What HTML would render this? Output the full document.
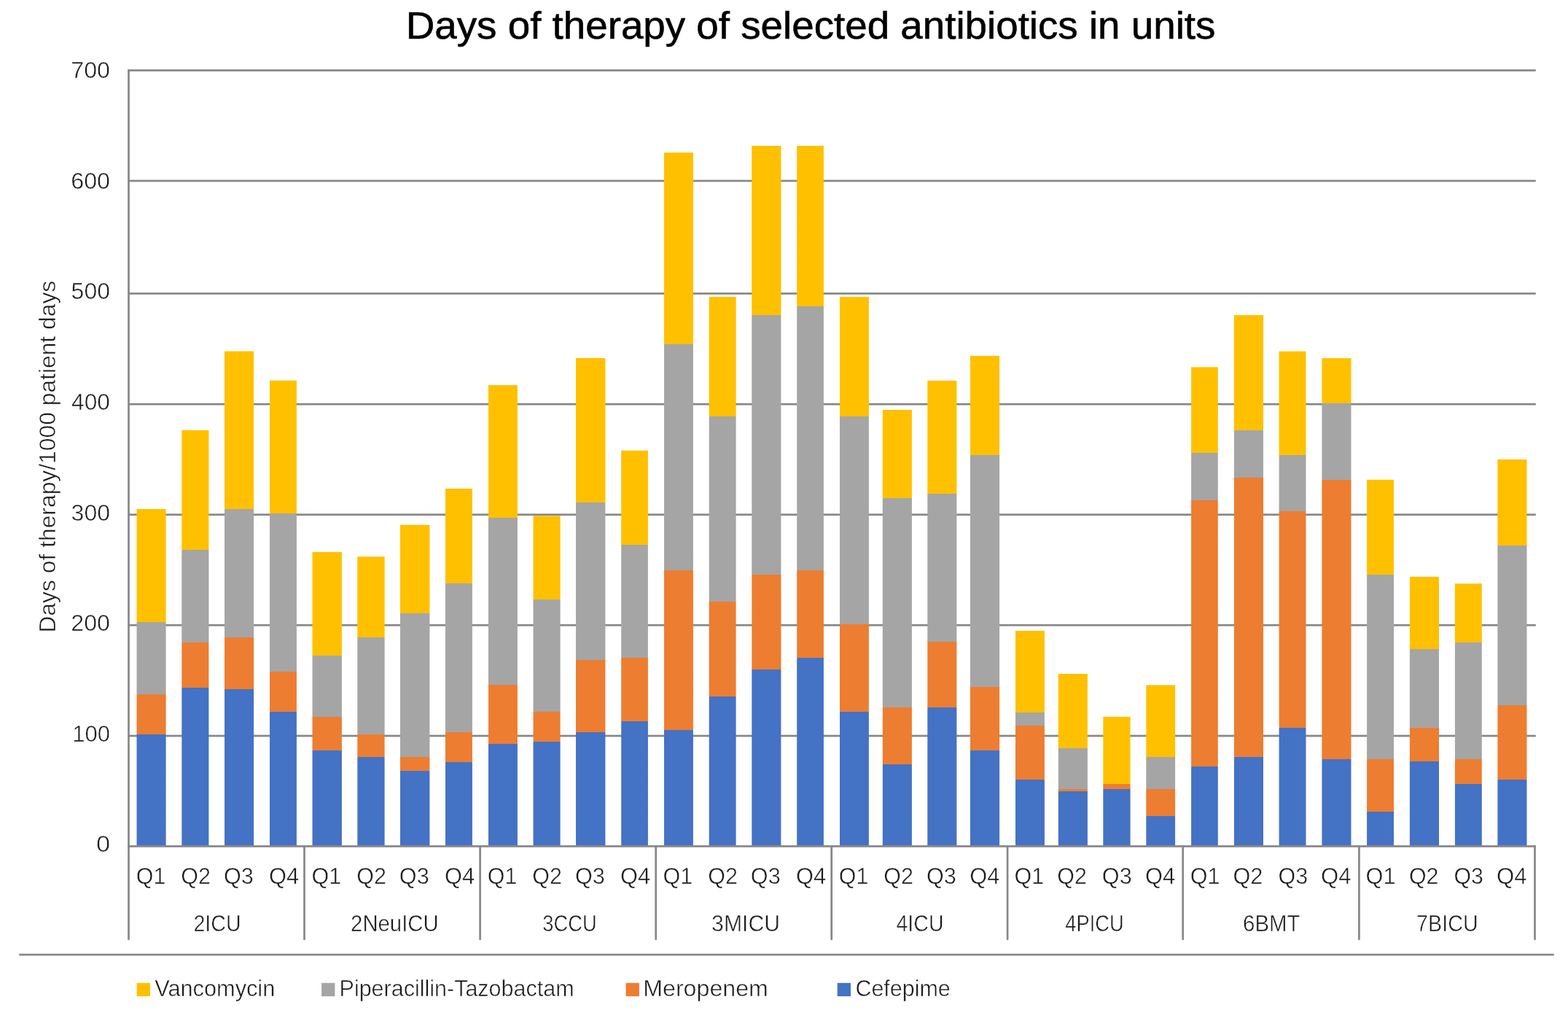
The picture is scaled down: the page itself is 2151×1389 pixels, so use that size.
<!DOCTYPE html>
<html lang="en">
<head>
<meta charset="utf-8">
<title>Days of therapy of selected antibiotics in units</title>
<style>
html,body{margin:0;padding:0;background:#fff;}
body{width:2151px;height:1389px;overflow:hidden;}
svg{display:block;}
text{font-family:"Liberation Sans",Arial,Helvetica,sans-serif;fill:#1a1a1a;stroke:#fff;stroke-width:0.5px;}
.t{font-size:52.6px;fill:#000;stroke:#000;stroke-width:0.6px;}
.k{font-size:31.2px;}
.q{font-size:31.2px;}
.u{font-size:31.2px;}
.l{font-size:31.2px;}
.a{font-size:31.2px;}
.gl{fill:#878787;}
.y{fill:#FFC000;}.g{fill:#A5A5A5;}.o{fill:#ED7D31;}.b{fill:#4472C4;}
</style>
</head>
<body>
<svg width="2151" height="1389" viewBox="0 0 2151 1389" role="img" aria-label="Stacked bar chart: days of therapy of selected antibiotics in units">
<rect x="0" y="0" width="2151" height="1389" fill="#fff"/>
<g class="gl">
<rect x="175.25" y="95.15" width="1931.5" height="2.7"/>
<rect x="175.25" y="246.65" width="1931.5" height="2.7"/>
<rect x="175.25" y="401.15" width="1931.5" height="2.7"/>
<rect x="175.25" y="552.85" width="1931.5" height="2.7"/>
<rect x="175.25" y="704.35" width="1931.5" height="2.7"/>
<rect x="175.25" y="855.85" width="1931.5" height="2.7"/>
<rect x="175.25" y="1007.65" width="1931.5" height="2.7"/>
</g>
<defs>
<linearGradient id="b0" gradientUnits="userSpaceOnUse" x1="0" y1="698" x2="0" y2="1159.5">
<stop offset="0.0000" stop-color="#FFC000"/><stop offset="0.3359" stop-color="#FFC000"/>
<stop offset="0.3359" stop-color="#A5A5A5"/><stop offset="0.5499" stop-color="#A5A5A5"/>
<stop offset="0.5499" stop-color="#ED7D31"/><stop offset="0.6704" stop-color="#ED7D31"/>
<stop offset="0.6704" stop-color="#4472C4"/><stop offset="1.0000" stop-color="#4472C4"/>
</linearGradient>
<linearGradient id="b1" gradientUnits="userSpaceOnUse" x1="0" y1="589.8" x2="0" y2="1159.5">
<stop offset="0.0000" stop-color="#FFC000"/><stop offset="0.2880" stop-color="#FFC000"/>
<stop offset="0.2880" stop-color="#A5A5A5"/><stop offset="0.5103" stop-color="#A5A5A5"/>
<stop offset="0.5103" stop-color="#ED7D31"/><stop offset="0.6191" stop-color="#ED7D31"/>
<stop offset="0.6191" stop-color="#4472C4"/><stop offset="1.0000" stop-color="#4472C4"/>
</linearGradient>
<linearGradient id="b2" gradientUnits="userSpaceOnUse" x1="0" y1="481.6" x2="0" y2="1159.5">
<stop offset="0.0000" stop-color="#FFC000"/><stop offset="0.3192" stop-color="#FFC000"/>
<stop offset="0.3192" stop-color="#A5A5A5"/><stop offset="0.5794" stop-color="#A5A5A5"/>
<stop offset="0.5794" stop-color="#ED7D31"/><stop offset="0.6842" stop-color="#ED7D31"/>
<stop offset="0.6842" stop-color="#4472C4"/><stop offset="1.0000" stop-color="#4472C4"/>
</linearGradient>
<linearGradient id="b3" gradientUnits="userSpaceOnUse" x1="0" y1="521.7" x2="0" y2="1159.5">
<stop offset="0.0000" stop-color="#FFC000"/><stop offset="0.2861" stop-color="#FFC000"/>
<stop offset="0.2861" stop-color="#A5A5A5"/><stop offset="0.6257" stop-color="#A5A5A5"/>
<stop offset="0.6257" stop-color="#ED7D31"/><stop offset="0.7129" stop-color="#ED7D31"/>
<stop offset="0.7129" stop-color="#4472C4"/><stop offset="1.0000" stop-color="#4472C4"/>
</linearGradient>
<linearGradient id="b4" gradientUnits="userSpaceOnUse" x1="0" y1="757" x2="0" y2="1159.5">
<stop offset="0.0000" stop-color="#FFC000"/><stop offset="0.3533" stop-color="#FFC000"/>
<stop offset="0.3533" stop-color="#A5A5A5"/><stop offset="0.5605" stop-color="#A5A5A5"/>
<stop offset="0.5605" stop-color="#ED7D31"/><stop offset="0.6758" stop-color="#ED7D31"/>
<stop offset="0.6758" stop-color="#4472C4"/><stop offset="1.0000" stop-color="#4472C4"/>
</linearGradient>
<linearGradient id="b5" gradientUnits="userSpaceOnUse" x1="0" y1="763.2" x2="0" y2="1159.5">
<stop offset="0.0000" stop-color="#FFC000"/><stop offset="0.2806" stop-color="#FFC000"/>
<stop offset="0.2806" stop-color="#A5A5A5"/><stop offset="0.6162" stop-color="#A5A5A5"/>
<stop offset="0.6162" stop-color="#ED7D31"/><stop offset="0.6944" stop-color="#ED7D31"/>
<stop offset="0.6944" stop-color="#4472C4"/><stop offset="1.0000" stop-color="#4472C4"/>
</linearGradient>
<linearGradient id="b6" gradientUnits="userSpaceOnUse" x1="0" y1="719.7" x2="0" y2="1159.5">
<stop offset="0.0000" stop-color="#FFC000"/><stop offset="0.2751" stop-color="#FFC000"/>
<stop offset="0.2751" stop-color="#A5A5A5"/><stop offset="0.7246" stop-color="#A5A5A5"/>
<stop offset="0.7246" stop-color="#ED7D31"/><stop offset="0.7665" stop-color="#ED7D31"/>
<stop offset="0.7665" stop-color="#4472C4"/><stop offset="1.0000" stop-color="#4472C4"/>
</linearGradient>
<linearGradient id="b7" gradientUnits="userSpaceOnUse" x1="0" y1="670" x2="0" y2="1159.5">
<stop offset="0.0000" stop-color="#FFC000"/><stop offset="0.2658" stop-color="#FFC000"/>
<stop offset="0.2658" stop-color="#A5A5A5"/><stop offset="0.6827" stop-color="#A5A5A5"/>
<stop offset="0.6827" stop-color="#ED7D31"/><stop offset="0.7651" stop-color="#ED7D31"/>
<stop offset="0.7651" stop-color="#4472C4"/><stop offset="1.0000" stop-color="#4472C4"/>
</linearGradient>
<linearGradient id="b8" gradientUnits="userSpaceOnUse" x1="0" y1="528.1" x2="0" y2="1159.5">
<stop offset="0.0000" stop-color="#FFC000"/><stop offset="0.2886" stop-color="#FFC000"/>
<stop offset="0.2886" stop-color="#A5A5A5"/><stop offset="0.6513" stop-color="#A5A5A5"/>
<stop offset="0.6513" stop-color="#ED7D31"/><stop offset="0.7789" stop-color="#ED7D31"/>
<stop offset="0.7789" stop-color="#4472C4"/><stop offset="1.0000" stop-color="#4472C4"/>
</linearGradient>
<linearGradient id="b9" gradientUnits="userSpaceOnUse" x1="0" y1="707.4" x2="0" y2="1159.5">
<stop offset="0.0000" stop-color="#FFC000"/><stop offset="0.2539" stop-color="#FFC000"/>
<stop offset="0.2539" stop-color="#A5A5A5"/><stop offset="0.5950" stop-color="#A5A5A5"/>
<stop offset="0.5950" stop-color="#ED7D31"/><stop offset="0.6841" stop-color="#ED7D31"/>
<stop offset="0.6841" stop-color="#4472C4"/><stop offset="1.0000" stop-color="#4472C4"/>
</linearGradient>
<linearGradient id="b10" gradientUnits="userSpaceOnUse" x1="0" y1="491" x2="0" y2="1159.5">
<stop offset="0.0000" stop-color="#FFC000"/><stop offset="0.2960" stop-color="#FFC000"/>
<stop offset="0.2960" stop-color="#A5A5A5"/><stop offset="0.6199" stop-color="#A5A5A5"/>
<stop offset="0.6199" stop-color="#ED7D31"/><stop offset="0.7677" stop-color="#ED7D31"/>
<stop offset="0.7677" stop-color="#4472C4"/><stop offset="1.0000" stop-color="#4472C4"/>
</linearGradient>
<linearGradient id="b11" gradientUnits="userSpaceOnUse" x1="0" y1="617.8" x2="0" y2="1159.5">
<stop offset="0.0000" stop-color="#FFC000"/><stop offset="0.2392" stop-color="#FFC000"/>
<stop offset="0.2392" stop-color="#A5A5A5"/><stop offset="0.5250" stop-color="#A5A5A5"/>
<stop offset="0.5250" stop-color="#ED7D31"/><stop offset="0.6853" stop-color="#ED7D31"/>
<stop offset="0.6853" stop-color="#4472C4"/><stop offset="1.0000" stop-color="#4472C4"/>
</linearGradient>
<linearGradient id="b12" gradientUnits="userSpaceOnUse" x1="0" y1="209.2" x2="0" y2="1159.5">
<stop offset="0.0000" stop-color="#FFC000"/><stop offset="0.2768" stop-color="#FFC000"/>
<stop offset="0.2768" stop-color="#A5A5A5"/><stop offset="0.6024" stop-color="#A5A5A5"/>
<stop offset="0.6024" stop-color="#ED7D31"/><stop offset="0.8335" stop-color="#ED7D31"/>
<stop offset="0.8335" stop-color="#4472C4"/><stop offset="1.0000" stop-color="#4472C4"/>
</linearGradient>
<linearGradient id="b13" gradientUnits="userSpaceOnUse" x1="0" y1="407.1" x2="0" y2="1159.5">
<stop offset="0.0000" stop-color="#FFC000"/><stop offset="0.2180" stop-color="#FFC000"/>
<stop offset="0.2180" stop-color="#A5A5A5"/><stop offset="0.5553" stop-color="#A5A5A5"/>
<stop offset="0.5553" stop-color="#ED7D31"/><stop offset="0.7282" stop-color="#ED7D31"/>
<stop offset="0.7282" stop-color="#4472C4"/><stop offset="1.0000" stop-color="#4472C4"/>
</linearGradient>
<linearGradient id="b14" gradientUnits="userSpaceOnUse" x1="0" y1="200" x2="0" y2="1159.5">
<stop offset="0.0000" stop-color="#FFC000"/><stop offset="0.2417" stop-color="#FFC000"/>
<stop offset="0.2417" stop-color="#A5A5A5"/><stop offset="0.6126" stop-color="#A5A5A5"/>
<stop offset="0.6126" stop-color="#ED7D31"/><stop offset="0.7482" stop-color="#ED7D31"/>
<stop offset="0.7482" stop-color="#4472C4"/><stop offset="1.0000" stop-color="#4472C4"/>
</linearGradient>
<linearGradient id="b15" gradientUnits="userSpaceOnUse" x1="0" y1="200" x2="0" y2="1159.5">
<stop offset="0.0000" stop-color="#FFC000"/><stop offset="0.2289" stop-color="#FFC000"/>
<stop offset="0.2289" stop-color="#A5A5A5"/><stop offset="0.6063" stop-color="#A5A5A5"/>
<stop offset="0.6063" stop-color="#ED7D31"/><stop offset="0.7318" stop-color="#ED7D31"/>
<stop offset="0.7318" stop-color="#4472C4"/><stop offset="1.0000" stop-color="#4472C4"/>
</linearGradient>
<linearGradient id="b16" gradientUnits="userSpaceOnUse" x1="0" y1="407.1" x2="0" y2="1159.5">
<stop offset="0.0000" stop-color="#FFC000"/><stop offset="0.2182" stop-color="#FFC000"/>
<stop offset="0.2182" stop-color="#A5A5A5"/><stop offset="0.5962" stop-color="#A5A5A5"/>
<stop offset="0.5962" stop-color="#ED7D31"/><stop offset="0.7566" stop-color="#ED7D31"/>
<stop offset="0.7566" stop-color="#4472C4"/><stop offset="1.0000" stop-color="#4472C4"/>
</linearGradient>
<linearGradient id="b17" gradientUnits="userSpaceOnUse" x1="0" y1="562" x2="0" y2="1159.5">
<stop offset="0.0000" stop-color="#FFC000"/><stop offset="0.2020" stop-color="#FFC000"/>
<stop offset="0.2020" stop-color="#A5A5A5"/><stop offset="0.6833" stop-color="#A5A5A5"/>
<stop offset="0.6833" stop-color="#ED7D31"/><stop offset="0.8129" stop-color="#ED7D31"/>
<stop offset="0.8129" stop-color="#4472C4"/><stop offset="1.0000" stop-color="#4472C4"/>
</linearGradient>
<linearGradient id="b18" gradientUnits="userSpaceOnUse" x1="0" y1="521.9" x2="0" y2="1159.5">
<stop offset="0.0000" stop-color="#FFC000"/><stop offset="0.2425" stop-color="#FFC000"/>
<stop offset="0.2425" stop-color="#A5A5A5"/><stop offset="0.5624" stop-color="#A5A5A5"/>
<stop offset="0.5624" stop-color="#ED7D31"/><stop offset="0.7033" stop-color="#ED7D31"/>
<stop offset="0.7033" stop-color="#4472C4"/><stop offset="1.0000" stop-color="#4472C4"/>
</linearGradient>
<linearGradient id="b19" gradientUnits="userSpaceOnUse" x1="0" y1="488" x2="0" y2="1159.5">
<stop offset="0.0000" stop-color="#FFC000"/><stop offset="0.2024" stop-color="#FFC000"/>
<stop offset="0.2024" stop-color="#A5A5A5"/><stop offset="0.6768" stop-color="#A5A5A5"/>
<stop offset="0.6768" stop-color="#ED7D31"/><stop offset="0.8057" stop-color="#ED7D31"/>
<stop offset="0.8057" stop-color="#4472C4"/><stop offset="1.0000" stop-color="#4472C4"/>
</linearGradient>
<linearGradient id="b20" gradientUnits="userSpaceOnUse" x1="0" y1="865" x2="0" y2="1159.5">
<stop offset="0.0000" stop-color="#FFC000"/><stop offset="0.3789" stop-color="#FFC000"/>
<stop offset="0.3789" stop-color="#A5A5A5"/><stop offset="0.4418" stop-color="#A5A5A5"/>
<stop offset="0.4418" stop-color="#ED7D31"/><stop offset="0.6930" stop-color="#ED7D31"/>
<stop offset="0.6930" stop-color="#4472C4"/><stop offset="1.0000" stop-color="#4472C4"/>
</linearGradient>
<linearGradient id="b21" gradientUnits="userSpaceOnUse" x1="0" y1="924" x2="0" y2="1159.5">
<stop offset="0.0000" stop-color="#FFC000"/><stop offset="0.4335" stop-color="#FFC000"/>
<stop offset="0.4335" stop-color="#A5A5A5"/><stop offset="0.6692" stop-color="#A5A5A5"/>
<stop offset="0.6692" stop-color="#ED7D31"/><stop offset="0.6828" stop-color="#ED7D31"/>
<stop offset="0.6828" stop-color="#4472C4"/><stop offset="1.0000" stop-color="#4472C4"/>
</linearGradient>
<linearGradient id="b22" gradientUnits="userSpaceOnUse" x1="0" y1="982.8" x2="0" y2="1159.5">
<stop offset="0.0000" stop-color="#FFC000"/><stop offset="0.5246" stop-color="#FFC000"/>
<stop offset="0.5246" stop-color="#ED7D31"/><stop offset="0.5591" stop-color="#ED7D31"/>
<stop offset="0.5591" stop-color="#4472C4"/><stop offset="1.0000" stop-color="#4472C4"/>
</linearGradient>
<linearGradient id="b23" gradientUnits="userSpaceOnUse" x1="0" y1="939.4" x2="0" y2="1159.5">
<stop offset="0.0000" stop-color="#FFC000"/><stop offset="0.4498" stop-color="#FFC000"/>
<stop offset="0.4498" stop-color="#A5A5A5"/><stop offset="0.6461" stop-color="#A5A5A5"/>
<stop offset="0.6461" stop-color="#ED7D31"/><stop offset="0.8151" stop-color="#ED7D31"/>
<stop offset="0.8151" stop-color="#4472C4"/><stop offset="1.0000" stop-color="#4472C4"/>
</linearGradient>
<linearGradient id="b24" gradientUnits="userSpaceOnUse" x1="0" y1="503.4" x2="0" y2="1159.5">
<stop offset="0.0000" stop-color="#FFC000"/><stop offset="0.1791" stop-color="#FFC000"/>
<stop offset="0.1791" stop-color="#A5A5A5"/><stop offset="0.2777" stop-color="#A5A5A5"/>
<stop offset="0.2777" stop-color="#ED7D31"/><stop offset="0.8345" stop-color="#ED7D31"/>
<stop offset="0.8345" stop-color="#4472C4"/><stop offset="1.0000" stop-color="#4472C4"/>
</linearGradient>
<linearGradient id="b25" gradientUnits="userSpaceOnUse" x1="0" y1="432.1" x2="0" y2="1159.5">
<stop offset="0.0000" stop-color="#FFC000"/><stop offset="0.2169" stop-color="#FFC000"/>
<stop offset="0.2169" stop-color="#A5A5A5"/><stop offset="0.3063" stop-color="#A5A5A5"/>
<stop offset="0.3063" stop-color="#ED7D31"/><stop offset="0.8334" stop-color="#ED7D31"/>
<stop offset="0.8334" stop-color="#4472C4"/><stop offset="1.0000" stop-color="#4472C4"/>
</linearGradient>
<linearGradient id="b26" gradientUnits="userSpaceOnUse" x1="0" y1="481.7" x2="0" y2="1159.5">
<stop offset="0.0000" stop-color="#FFC000"/><stop offset="0.2098" stop-color="#FFC000"/>
<stop offset="0.2098" stop-color="#A5A5A5"/><stop offset="0.3237" stop-color="#A5A5A5"/>
<stop offset="0.3237" stop-color="#ED7D31"/><stop offset="0.7617" stop-color="#ED7D31"/>
<stop offset="0.7617" stop-color="#4472C4"/><stop offset="1.0000" stop-color="#4472C4"/>
</linearGradient>
<linearGradient id="b27" gradientUnits="userSpaceOnUse" x1="0" y1="491.1" x2="0" y2="1159.5">
<stop offset="0.0000" stop-color="#FFC000"/><stop offset="0.0923" stop-color="#FFC000"/>
<stop offset="0.0923" stop-color="#A5A5A5"/><stop offset="0.2494" stop-color="#A5A5A5"/>
<stop offset="0.2494" stop-color="#ED7D31"/><stop offset="0.8232" stop-color="#ED7D31"/>
<stop offset="0.8232" stop-color="#4472C4"/><stop offset="1.0000" stop-color="#4472C4"/>
</linearGradient>
<linearGradient id="b28" gradientUnits="userSpaceOnUse" x1="0" y1="657.8" x2="0" y2="1159.5">
<stop offset="0.0000" stop-color="#FFC000"/><stop offset="0.2593" stop-color="#FFC000"/>
<stop offset="0.2593" stop-color="#A5A5A5"/><stop offset="0.7644" stop-color="#A5A5A5"/>
<stop offset="0.7644" stop-color="#ED7D31"/><stop offset="0.9065" stop-color="#ED7D31"/>
<stop offset="0.9065" stop-color="#4472C4"/><stop offset="1.0000" stop-color="#4472C4"/>
</linearGradient>
<linearGradient id="b29" gradientUnits="userSpaceOnUse" x1="0" y1="790.9" x2="0" y2="1159.5">
<stop offset="0.0000" stop-color="#FFC000"/><stop offset="0.2689" stop-color="#FFC000"/>
<stop offset="0.2689" stop-color="#A5A5A5"/><stop offset="0.5619" stop-color="#A5A5A5"/>
<stop offset="0.5619" stop-color="#ED7D31"/><stop offset="0.6880" stop-color="#ED7D31"/>
<stop offset="0.6880" stop-color="#4472C4"/><stop offset="1.0000" stop-color="#4472C4"/>
</linearGradient>
<linearGradient id="b30" gradientUnits="userSpaceOnUse" x1="0" y1="800.2" x2="0" y2="1159.5">
<stop offset="0.0000" stop-color="#FFC000"/><stop offset="0.2243" stop-color="#FFC000"/>
<stop offset="0.2243" stop-color="#A5A5A5"/><stop offset="0.6710" stop-color="#A5A5A5"/>
<stop offset="0.6710" stop-color="#ED7D31"/><stop offset="0.7662" stop-color="#ED7D31"/>
<stop offset="0.7662" stop-color="#4472C4"/><stop offset="1.0000" stop-color="#4472C4"/>
</linearGradient>
<linearGradient id="b31" gradientUnits="userSpaceOnUse" x1="0" y1="630" x2="0" y2="1159.5">
<stop offset="0.0000" stop-color="#FFC000"/><stop offset="0.2221" stop-color="#FFC000"/>
<stop offset="0.2221" stop-color="#A5A5A5"/><stop offset="0.6368" stop-color="#A5A5A5"/>
<stop offset="0.6368" stop-color="#ED7D31"/><stop offset="0.8297" stop-color="#ED7D31"/>
<stop offset="0.8297" stop-color="#4472C4"/><stop offset="1.0000" stop-color="#4472C4"/>
</linearGradient>
</defs>
<g>
<rect fill="url(#b0)" x="187.5" y="698" width="40.1" height="461.5"/>
<rect fill="url(#b1)" x="249.3" y="589.8" width="37.1" height="569.7"/>
<rect fill="url(#b2)" x="308" y="481.6" width="40.1" height="677.9"/>
<rect fill="url(#b3)" x="370" y="521.7" width="36.9" height="637.8"/>
<rect fill="url(#b4)" x="428.5" y="757" width="40.4" height="402.5"/>
<rect fill="url(#b5)" x="490.3" y="763.2" width="37.3" height="396.3"/>
<rect fill="url(#b6)" x="549" y="719.7" width="40.4" height="439.8"/>
<rect fill="url(#b7)" x="611" y="670" width="36.9" height="489.5"/>
<rect fill="url(#b8)" x="670" y="528.1" width="39.9" height="631.4"/>
<rect fill="url(#b9)" x="731.5" y="707.4" width="37.1" height="452.1"/>
<rect fill="url(#b10)" x="790" y="491" width="40.4" height="668.5"/>
<rect fill="url(#b11)" x="852.2" y="617.8" width="36.7" height="541.7"/>
<rect fill="url(#b12)" x="911" y="209.2" width="39.9" height="950.3"/>
<rect fill="url(#b13)" x="972.7" y="407.1" width="36.9" height="752.4"/>
<rect fill="url(#b14)" x="1031.3" y="200" width="40.1" height="959.5"/>
<rect fill="url(#b15)" x="1093.2" y="200" width="36.7" height="959.5"/>
<rect fill="url(#b16)" x="1152" y="407.1" width="39.9" height="752.4"/>
<rect fill="url(#b17)" x="1210.8" y="562" width="40.1" height="597.5"/>
<rect fill="url(#b18)" x="1272.3" y="521.9" width="40.1" height="637.6"/>
<rect fill="url(#b19)" x="1331" y="488" width="40.1" height="671.5"/>
<rect fill="url(#b20)" x="1393" y="865" width="39.9" height="294.5"/>
<rect fill="url(#b21)" x="1451.8" y="924" width="40.1" height="235.5"/>
<rect fill="url(#b22)" x="1513.3" y="982.8" width="37.3" height="176.7"/>
<rect fill="url(#b23)" x="1572.3" y="939.4" width="39.8" height="220.1"/>
<rect fill="url(#b24)" x="1634.1" y="503.4" width="36.7" height="656.1"/>
<rect fill="url(#b25)" x="1692.9" y="432.1" width="40.1" height="727.4"/>
<rect fill="url(#b26)" x="1754.6" y="481.7" width="36.9" height="677.8"/>
<rect fill="url(#b27)" x="1813.4" y="491.1" width="40.1" height="668.4"/>
<rect fill="url(#b28)" x="1875.1" y="657.8" width="36.9" height="501.7"/>
<rect fill="url(#b29)" x="1933.9" y="790.9" width="40.1" height="368.6"/>
<rect fill="url(#b30)" x="1995.9" y="800.2" width="36.9" height="359.3"/>
<rect fill="url(#b31)" x="2054.4" y="630" width="40.1" height="529.5"/>
</g>
<g class="gl">
<rect x="175.25" y="1159.05" width="1931.5" height="2.7"/>
<rect x="175.15" y="95.25" width="2.7" height="1066.5"/>
<rect x="175.15" y="1159.05" width="2.7" height="129.75"/>
<rect x="416.15" y="1159.05" width="2.7" height="129.75"/>
<rect x="657.25" y="1159.05" width="2.7" height="129.75"/>
<rect x="898.35" y="1159.05" width="2.7" height="129.75"/>
<rect x="1139.35" y="1159.05" width="2.7" height="129.75"/>
<rect x="1380.75" y="1159.05" width="2.7" height="129.75"/>
<rect x="1621.35" y="1159.05" width="2.7" height="129.75"/>
<rect x="1863.05" y="1159.05" width="2.7" height="129.75"/>
<rect x="2104.15" y="1159.05" width="2.7" height="129.75"/>
<rect x="26.2" y="1307.7" width="2105.6" height="2.7"/>
</g>
<rect class="y" x="187.7" y="1347.8" width="18.3" height="18.3"/>
<rect class="g" x="441.1" y="1347.8" width="18.3" height="18.3"/>
<rect class="o" x="858.6" y="1347.8" width="18.3" height="18.3"/>
<rect class="b" x="1148.7" y="1347.8" width="18.3" height="18.3"/>
<defs><filter id="soft" x="0" y="0" width="2151" height="1389" filterUnits="userSpaceOnUse"><feGaussianBlur stdDeviation="0.55"/></filter></defs>
<g filter="url(#soft)">
<text class="t" x="556.78" y="53" textLength="1110.64" lengthAdjust="spacingAndGlyphs">Days of therapy of selected antibiotics in units</text>
<text class="k" x="97.22" y="106.8" textLength="53.78" lengthAdjust="spacingAndGlyphs">700</text>
<text class="k" x="97.22" y="258.9" textLength="53.78" lengthAdjust="spacingAndGlyphs">600</text>
<text class="k" x="97.62" y="410.1" textLength="53.37" lengthAdjust="spacingAndGlyphs">500</text>
<text class="k" x="98.14" y="561.8" textLength="52.84" lengthAdjust="spacingAndGlyphs">400</text>
<text class="k" x="97.62" y="713.6" textLength="53.37" lengthAdjust="spacingAndGlyphs">300</text>
<text class="k" x="97.36" y="864.8" textLength="53.64" lengthAdjust="spacingAndGlyphs">200</text>
<text class="k" x="99.14" y="1016.6" textLength="51.81" lengthAdjust="spacingAndGlyphs">100</text>
<text class="k" x="131.92" y="1168.1" textLength="19.16" lengthAdjust="spacingAndGlyphs">0</text>
<text class="a" transform="translate(76 865) rotate(-90)" x="-2.55" y="0" textLength="482.78" lengthAdjust="spacingAndGlyphs">Days of therapy/1000 patient days</text>
<text class="q" x="186.74" y="1211.5" textLength="40.58" lengthAdjust="spacingAndGlyphs">Q1</text>
<text class="q" x="248.24" y="1211.5" textLength="40.58" lengthAdjust="spacingAndGlyphs">Q2</text>
<text class="q" x="307.03" y="1211.5" textLength="40.88" lengthAdjust="spacingAndGlyphs">Q3</text>
<text class="q" x="369.02" y="1211.5" textLength="41.1" lengthAdjust="spacingAndGlyphs">Q4</text>
<text class="q" x="427.53" y="1211.5" textLength="40.8" lengthAdjust="spacingAndGlyphs">Q1</text>
<text class="q" x="489.24" y="1211.5" textLength="40.58" lengthAdjust="spacingAndGlyphs">Q2</text>
<text class="q" x="547.83" y="1211.5" textLength="40.88" lengthAdjust="spacingAndGlyphs">Q3</text>
<text class="q" x="610.02" y="1211.5" textLength="41.1" lengthAdjust="spacingAndGlyphs">Q4</text>
<text class="q" x="668.74" y="1211.5" textLength="40.58" lengthAdjust="spacingAndGlyphs">Q1</text>
<text class="q" x="730.24" y="1211.5" textLength="40.58" lengthAdjust="spacingAndGlyphs">Q2</text>
<text class="q" x="789.03" y="1211.5" textLength="40.88" lengthAdjust="spacingAndGlyphs">Q3</text>
<text class="q" x="851.02" y="1211.5" textLength="41.1" lengthAdjust="spacingAndGlyphs">Q4</text>
<text class="q" x="909.53" y="1211.5" textLength="40.8" lengthAdjust="spacingAndGlyphs">Q1</text>
<text class="q" x="971.24" y="1211.5" textLength="40.58" lengthAdjust="spacingAndGlyphs">Q2</text>
<text class="q" x="1029.83" y="1211.5" textLength="40.88" lengthAdjust="spacingAndGlyphs">Q3</text>
<text class="q" x="1092.02" y="1211.5" textLength="41.1" lengthAdjust="spacingAndGlyphs">Q4</text>
<text class="q" x="1150.74" y="1211.5" textLength="40.58" lengthAdjust="spacingAndGlyphs">Q1</text>
<text class="q" x="1212.24" y="1211.5" textLength="40.58" lengthAdjust="spacingAndGlyphs">Q2</text>
<text class="q" x="1271.03" y="1211.5" textLength="40.88" lengthAdjust="spacingAndGlyphs">Q3</text>
<text class="q" x="1330.22" y="1211.5" textLength="41.1" lengthAdjust="spacingAndGlyphs">Q4</text>
<text class="q" x="1391.53" y="1211.5" textLength="40.8" lengthAdjust="spacingAndGlyphs">Q1</text>
<text class="q" x="1450.34" y="1211.5" textLength="40.58" lengthAdjust="spacingAndGlyphs">Q2</text>
<text class="q" x="1511.83" y="1211.5" textLength="40.88" lengthAdjust="spacingAndGlyphs">Q3</text>
<text class="q" x="1571.02" y="1211.5" textLength="41.1" lengthAdjust="spacingAndGlyphs">Q4</text>
<text class="q" x="1632.63" y="1211.5" textLength="40.8" lengthAdjust="spacingAndGlyphs">Q1</text>
<text class="q" x="1691.42" y="1211.5" textLength="41.01" lengthAdjust="spacingAndGlyphs">Q2</text>
<text class="q" x="1753.44" y="1211.5" textLength="40.66" lengthAdjust="spacingAndGlyphs">Q3</text>
<text class="q" x="1812.1" y="1211.5" textLength="41.63" lengthAdjust="spacingAndGlyphs">Q4</text>
<text class="q" x="1873.62" y="1211.5" textLength="41.12" lengthAdjust="spacingAndGlyphs">Q1</text>
<text class="q" x="1932.94" y="1211.5" textLength="40.58" lengthAdjust="spacingAndGlyphs">Q2</text>
<text class="q" x="1994.44" y="1211.5" textLength="40.45" lengthAdjust="spacingAndGlyphs">Q3</text>
<text class="q" x="2053.1" y="1211.5" textLength="41.63" lengthAdjust="spacingAndGlyphs">Q4</text>
<text class="u" x="265.43" y="1276.6" textLength="65.11" lengthAdjust="spacingAndGlyphs">2ICU</text>
<text class="u" x="481.09" y="1276.6" textLength="120.56" lengthAdjust="spacingAndGlyphs">2NeuICU</text>
<text class="u" x="744.31" y="1276.6" textLength="74.34" lengthAdjust="spacingAndGlyphs">3CCU</text>
<text class="u" x="976.09" y="1276.6" textLength="94" lengthAdjust="spacingAndGlyphs">3MICU</text>
<text class="u" x="1229.41" y="1276.6" textLength="65.12" lengthAdjust="spacingAndGlyphs">4ICU</text>
<text class="u" x="1461.35" y="1276.6" textLength="80.26" lengthAdjust="spacingAndGlyphs">4PICU</text>
<text class="u" x="1705.07" y="1276.6" textLength="78.51" lengthAdjust="spacingAndGlyphs">6BMT</text>
<text class="u" x="1943.11" y="1276.6" textLength="84.61" lengthAdjust="spacingAndGlyphs">7BICU</text>
<text class="l" x="212.18" y="1366" textLength="165.11" lengthAdjust="spacingAndGlyphs">Vancomycin</text>
<text class="l" x="465.56" y="1366" textLength="321.99" lengthAdjust="spacingAndGlyphs">Piperacillin-Tazobactam</text>
<text class="l" x="882.23" y="1366" textLength="171.62" lengthAdjust="spacingAndGlyphs">Meropenem</text>
<text class="l" x="1173.42" y="1366" textLength="130.31" lengthAdjust="spacingAndGlyphs">Cefepime</text>
</g>
</svg>
</body>
</html>
